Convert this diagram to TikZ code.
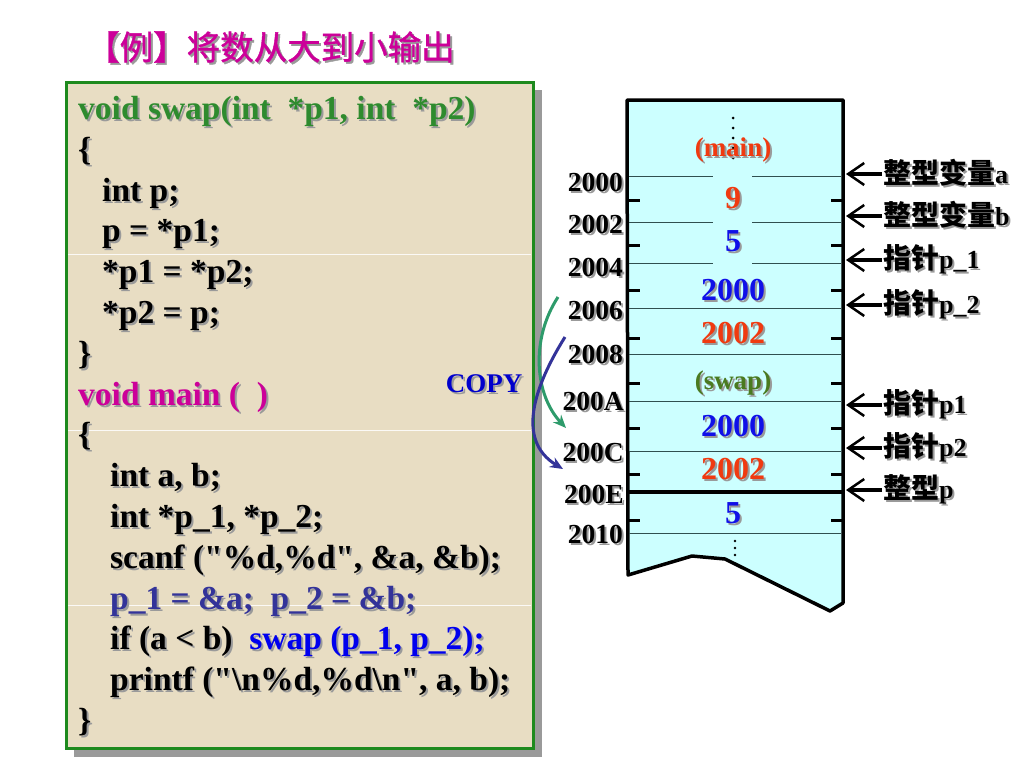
\documentclass[tikz,border=0pt]{standalone}
\usepackage{fontspec}
\setmainfont{Liberation Serif}
\newfontfamily\cf{Liberation Serif}
\newfontfamily\cjk{Noto Sans CJK SC}
\newfontfamily\cjkt{Noto Sans CJK SC}[FakeBold=1.2]
\usetikzlibrary{arrows.meta}
\definecolor{shadowc}{HTML}{9A9A9A}
\definecolor{titlemag}{HTML}{CC0099}
\definecolor{codegreen}{HTML}{2E8B2E}
\definecolor{codemag}{HTML}{CC0099}
\definecolor{codenavy}{HTML}{333399}
\definecolor{codeblue}{HTML}{0000EE}
\definecolor{copyblue}{HTML}{0000CC}
\definecolor{paper}{HTML}{E8DDC3}
\definecolor{boxgreen}{HTML}{1E8A1E}
\definecolor{memfill}{HTML}{CCFFFF}
\definecolor{rowline}{HTML}{2F4F4F}
\definecolor{valred}{HTML}{F03A10}
\definecolor{valblue}{HTML}{1010E8}
\definecolor{valgreen}{HTML}{4A7A20}
\definecolor{arrgreen}{HTML}{2E9B6B}
\definecolor{arrblue}{HTML}{333399}
\newcommand\plaintxt[1]{#1}
\newcommand\hlb[1]{\textcolor{codeblue}{#1}}
\newcommand\shd[1]{\makebox[0pt][l]{\kern2pt\raisebox{-2pt}{\color{shadowc}\let\hlb\plaintxt #1}}#1}
\newcommand\cj[1]{{\cjk\fontsize{28}{28}\selectfont #1}}
\tikzset{
  code/.style={anchor=base west, inner sep=0pt, font=\cf\fontsize{33.5}{33.5}\selectfont\bfseries, text=black},
  addr/.style={anchor=base east, inner sep=0pt, font=\fontsize{27.5}{27.5}\selectfont\bfseries, text=black},
  val/.style={anchor=center, inner sep=0pt, font=\fontsize{32}{32}\selectfont\bfseries},
  frame/.style={anchor=center, inner sep=0pt, font=\fontsize{27}{27}\selectfont\bfseries},
  lbl/.style={anchor=west, inner sep=1pt, font=\fontsize{26}{26}\selectfont\bfseries, text=black},
  ptr/.style={line width=3.5pt, -{Straight Barb[length=16pt,width=22pt,line width=2.5pt]}},
  row/.style={rowline, line width=1pt},
  tick/.style={line width=3pt},
  copyarr/.style={line width=3pt, -{Stealth[length=13pt,width=11pt]}},
  dot/.style={fill=black, circle, inner sep=0pt, minimum size=3pt}
}
\begin{document}
\begin{tikzpicture}[x=1pt, y=-1pt]
\useasboundingbox (0,0) rectangle (1024,768);
% title
\node[anchor=west, inner sep=0pt, font=\cjkt\fontsize{33.5}{33.5}\selectfont, text=titlemag] (title) at (86,48) {\shd{【例】将数从大到小输出}};
% code box
\fill[shadowc] (74,90) rectangle (542,757);
\fill[paper] (66,82) rectangle (533,748);
\foreach \yy in {254,430,605} \draw[white, line width=1pt, opacity=0.85] (68,\yy) -- (531,\yy);
\draw[boxgreen, line width=3pt] (66,82) rectangle (533,748);
% code lines
\node[code, text=codegreen] (c1) at (78,119) {\shd{void swap(int~~*p1, int~~*p2)}};
\node[code] (c2) at (78,160) {\shd{\{}};
\node[code] (c3) at (102,201) {\shd{int p;}};
\node[code] (c4) at (102,241) {\shd{p = *p1;}};
\node[code] (c5) at (102,282) {\shd{*p1 = *p2;}};
\node[code] (c6) at (102,323) {\shd{*p2 = p;}};
\node[code] (c7) at (78,364) {\shd{\}}};
\node[code, text=codemag] (c8) at (78,405) {\shd{void main (~~)}};
\node[code] (c9) at (78,445) {\shd{\{}};
\node[code] (c10) at (110,486) {\shd{int a, b;}};
\node[code] (c11) at (110,527) {\shd{int *p\_1, *p\_2;}};
\node[code] (c12) at (110,568) {\shd{scanf ("\%d,\%d", \&a, \&b);}};
\node[code, text=codenavy] (c13) at (110,609) {\shd{p\_1 = \&a;~~p\_2 = \&b;}};
\node[code] (c14) at (110,649) {\shd{if (a < b)~~\hlb{swap (p\_1, p\_2);}}};
\node[code] (c15) at (110,690) {\shd{printf ("\textbackslash n\%d,\%d\textbackslash n", a, b);}};
\node[code] (c16) at (78,731) {\shd{\}}};
\node[frame, text=copyblue] (copy) at (484,385) {\shd{COPY}};
% memory box
\draw[line width=3.5pt, fill=memfill, line join=round]
  (627,100) -- (843,100) -- (843,603) -- (830,611) -- (725,559) -- (692,556) -- (628,575) -- cycle;
\foreach \yy in {176,222,263} {
  \draw[row] (629,\yy) -- (713,\yy);
  \draw[row] (752,\yy) -- (841,\yy);
}
\foreach \yy in {308,354,401,451,533} \draw[row] (629,\yy) -- (841,\yy);
\draw[line width=3.5pt] (627,492) -- (843,492);
\foreach \yy in {200,245,290,338,383,428,474,520} {
  \draw[tick] (628,\yy) -- (640,\yy);
  \draw[tick] (831,\yy) -- (842,\yy);
}
% dots
\foreach \yy in {118,128,138,148,158} \node[dot] at (733,\yy) {};
\foreach \yy in {541,548,555} \node[dot, minimum size=2.6pt] at (735,\yy) {};
% cell contents
\node[frame, text=valred] (main) at (733,151) {\shd{(main)}};
\node[val, text=valred] (v1) at (733,199) {\shd{9}};
\node[val, text=valblue] (v2) at (733,242) {\shd{5}};
\node[val, text=valblue] (v3) at (733,291) {\shd{2000}};
\node[val, text=valred] (v4) at (733,334) {\shd{2002}};
\node[frame, text=valgreen] (swap) at (733,384) {\shd{(swap)}};
\node[val, text=valblue] (v5) at (733,427) {\shd{2000}};
\node[val, text=valred] (v6) at (733,470) {\shd{2002}};
\node[val, text=valblue] (v7) at (733,514) {\shd{5}};
% addresses
\node[addr] (a0) at (623,191) {\shd{2000}};
\node[addr] (a2) at (623,233) {\shd{2002}};
\node[addr] (a4) at (623,276) {\shd{2004}};
\node[addr] (a6) at (623,319) {\shd{2006}};
\node[addr] (a8) at (623,363) {\shd{2008}};
\node[addr] (aA) at (624,410) {\shd{200A}};
\node[addr] (aC) at (624,461) {\shd{200C}};
\node[addr] (aE) at (624,503) {\shd{200E}};
\node[addr] (a10) at (623,543) {\shd{2010}};
% pointer labels
\node[lbl] (la) at (882,174) {\shd{\cj{整型变量}a}};
\node[lbl] (lb) at (882,216) {\shd{\cj{整型变量}b}};
\node[lbl] (lp_1) at (882,260) {\shd{\cj{指针}p\_1}};
\node[lbl] (lp_2) at (882,305) {\shd{\cj{指针}p\_2}};
\node[lbl] (lp1) at (882,405) {\shd{\cj{指针}p1}};
\node[lbl] (lp2) at (882,448) {\shd{\cj{指针}p2}};
\node[lbl] (lp) at (882,490) {\shd{\cj{整型}p}};
\coordinate (ea) at (846,174);
\coordinate (eb) at (846,216);
\coordinate (ep_1) at (846,260);
\coordinate (ep_2) at (846,305);
\coordinate (ep1) at (846,405);
\coordinate (ep2) at (846,448);
\coordinate (ep) at (846,490);
\foreach \n in {a,b,p_1,p_2,p1,p2,p} \draw[ptr] (l\n.west) -- (e\n);
% copy arrows
\coordinate (gs) at (558,297);
\coordinate (ge) at (566,428);
\coordinate (bs) at (565,337);
\coordinate (be) at (563,469);
\draw[copyarr, arrgreen] (gs) .. controls (530,340) and (535,395) .. (ge);
\draw[copyarr, arrblue] (bs) .. controls (535,385) and (515,440) .. (be);
\end{tikzpicture}
\end{document}
